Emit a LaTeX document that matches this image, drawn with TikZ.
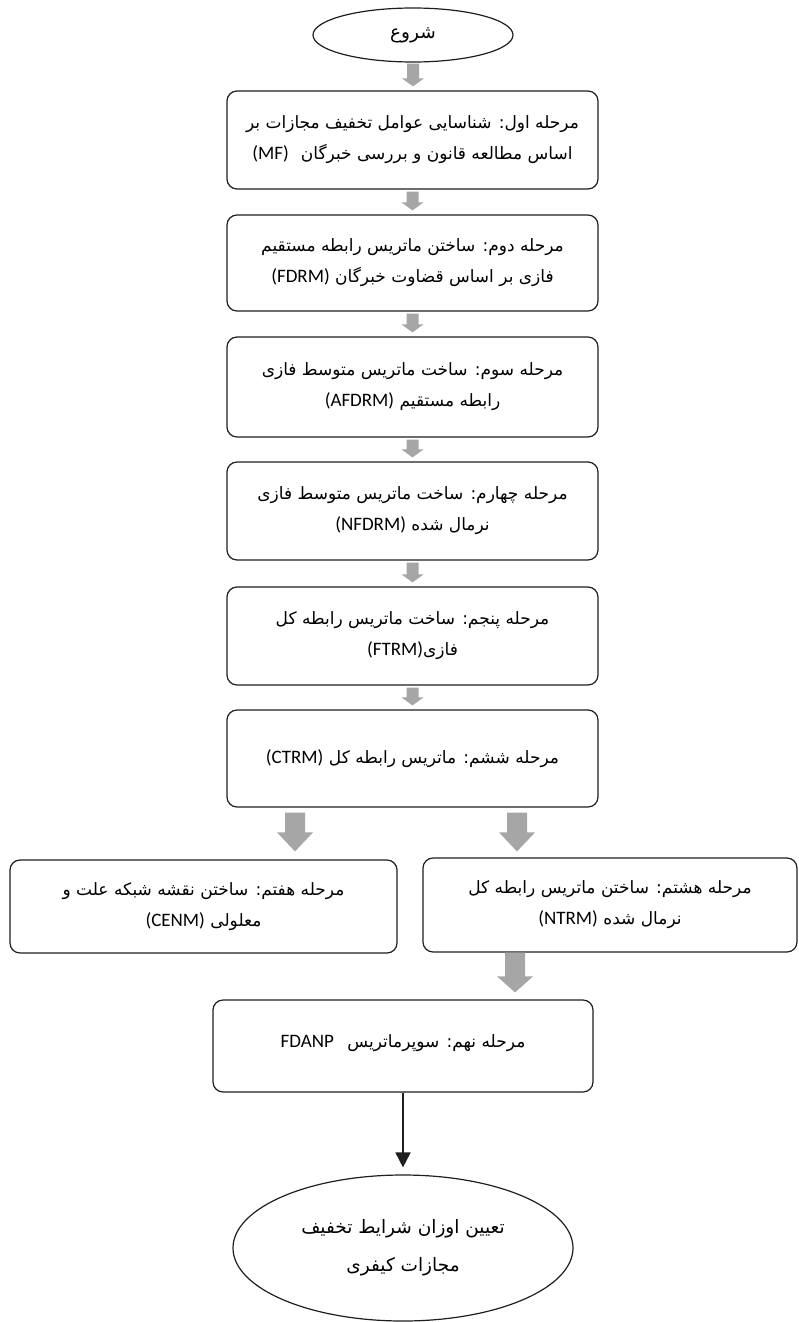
\documentclass[tikz,border=0pt]{standalone}
\usepackage{fontspec}
\usetikzlibrary{calc,arrows.meta,shapes.geometric}
\TeXXeTstate=1
\newfontfamily\fafont[Script=Arabic]{DejaVu Sans}
\newfontfamily\lafont{Carlito}
\newcommand{\myR}[1]{\beginR #1\endR}
\newcommand{\myL}[1]{\beginL{\lafont\fontsize{19pt}{19pt}\selectfont #1}\endL{}}
\definecolor{agray}{HTML}{A6A6A6}
\definecolor{edge}{HTML}{1E1E1E}
\newcommand{\barrow}[7]{%
  \fill[agray] let \p1=#1, \p2=#2 in
  (\x1-#3pt,\y1-#6pt) -- (\x1+#3pt,\y1-#6pt) -- (\x1+#3pt,\y2+#7pt+#5pt)
  -- (\x1+#4pt,\y2+#7pt+#5pt) -- (\x1,\y2+#7pt) -- (\x1-#4pt,\y2+#7pt+#5pt)
  -- (\x1-#3pt,\y2+#7pt+#5pt) -- cycle;}
\tikzset{
  stepbox/.style={draw=edge, line width=1.2pt, rounded corners=10pt, align=center,
    inner sep=0pt, font=\fafont\fontsize{17pt}{31pt}\selectfont},
  oval/.style={draw=edge, line width=1.2pt, ellipse, align=center, inner sep=0pt,
    font=\fafont\fontsize{18.5pt}{38pt}\selectfont}
}
\begin{document}
\begin{tikzpicture}[x=1pt,y=1pt]
\useasboundingbox (0,0) rectangle (798,-1322);
\node[oval, minimum width=200pt, minimum height=54pt] (start) at (413,-35) {\myR{شروع}};
\node[stepbox, minimum width=371pt, minimum height=98pt] (b1) at (412.5,-140)
  {\myR{مرحله اول: شناسایی عوامل تخفیف مجازات بر}\\
   \myR{اساس مطالعه قانون و بررسی خبرگان\hspace{0.7em}\myL{(MF)}}};
\node[stepbox, minimum width=371pt, minimum height=96pt] (b2) at (412.5,-263)
  {\myR{مرحله دوم: ساختن ماتریس رابطه مستقیم}\\
   \myR{فازی بر اساس قضاوت خبرگان \myL{(FDRM)}}};
\node[stepbox, minimum width=371pt, minimum height=100pt] (b3) at (412.5,-387)
  {\myR{مرحله سوم: ساخت ماتریس متوسط فازی}\\
   \myR{رابطه مستقیم \myL{(AFDRM)}}};
\node[stepbox, minimum width=371pt, minimum height=98pt] (b4) at (412.5,-511)
  {\myR{مرحله چهارم: ساخت ماتریس متوسط فازی}\\
   \myR{نرمال شده \myL{(NFDRM)}}};
\node[stepbox, minimum width=371pt, minimum height=98pt] (b5) at (412.5,-636)
  {\myR{مرحله پنجم: ساخت ماتریس رابطه کل}\\
   \myR{فازی\myL{(FTRM)}}};
\node[stepbox, minimum width=371pt, minimum height=97pt] (b6) at (412.5,-758.5)
  {\myR{مرحله ششم: ماتریس رابطه کل \myL{(CTRM)}}};
\node[stepbox, minimum width=387pt, minimum height=93pt] (b7) at (203.5,-906.5)
  {\myR{مرحله هفتم: ساختن نقشه شبکه علت و}\\
   \myR{معلولی \myL{(CENM)}}};
\node[stepbox, minimum width=374pt, minimum height=94pt] (b8) at (610,-905)
  {\myR{مرحله هشتم: ساختن ماتریس رابطه کل}\\
   \myR{نرمال شده \myL{(NTRM)}}};
\node[stepbox, minimum width=380pt, minimum height=92pt] (b9) at (403,-1046)
  {\raisebox{10pt}{\myR{مرحله نهم: سوپرماتریس\hspace{0.8em}\myL{FDANP}}}};
\node[oval, minimum width=340pt, minimum height=146pt] (end) at (403,-1248)
  {\myR{تعیین اوزان شرایط تخفیف}\\ \myR{مجازات کیفری}};
% small block arrows
\barrow{(start.south)}{(b1.north)}{6}{11}{8}{1}{4}
\barrow{(b1.south)}{(b2.north)}{6}{11}{8}{2}{4}
\barrow{(b2.south)}{(b3.north)}{6}{11}{8}{2}{4}
\barrow{(b3.south)}{(b4.north)}{6}{11}{8}{2}{4}
\barrow{(b4.south)}{(b5.north)}{6}{11}{8}{2}{4}
\barrow{(b5.south)}{(b6.north)}{6}{11}{8}{2}{4}
% big block arrows
\barrow{($(b6.south)+(-117.5,0)$)}{(b7.north)}{10}{18}{19}{5}{8}
\barrow{($(b6.south)+(104.5,0)$)}{(b8.north)}{10}{18}{19}{5}{6}
\barrow{($(b8.south)+(-95,0)$)}{(b9.north)}{10}{18}{16}{0}{7}
% black arrow
\draw[edge, line width=1.8pt, -{Triangle[width=15pt,length=15pt]}, shorten >=7pt]
  (b9.south) -- (end.north);
\end{tikzpicture}
\end{document}
